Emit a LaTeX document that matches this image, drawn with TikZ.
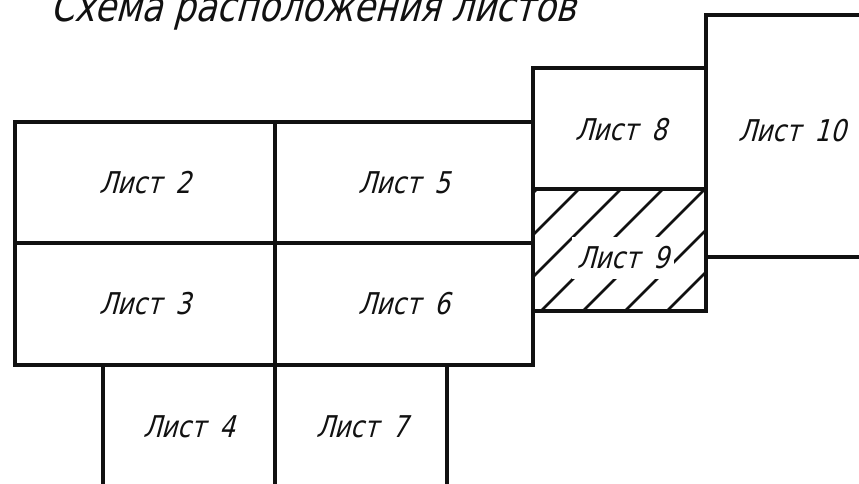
\documentclass[tikz,border=0pt]{standalone}
\usepackage{fontspec}
\newfontfamily\gostfont[FakeSlant=0.27,FakeStretch=0.82]{DejaVu Sans}
\definecolor{ink}{HTML}{111111}
\tikzset{frame/.style={ink,line width=3.4pt},hatch/.style={ink,line width=2.6pt},sheetlabel/.style={font=\gostfont\fontsize{30}{36}\selectfont,text=ink,inner sep=1pt},titlelabel/.style={font=\gostfont\fontsize{42}{50}\selectfont,text=ink,inner sep=0pt,anchor=base west}}

\begin{document}
\begin{tikzpicture}[x=1pt,y=-1pt]
\useasboundingbox (0,0) rectangle (859,484);
\clip (0,0) rectangle (859,484);
\node[titlelabel] (title) at (50,22) {Схема расположения листов};
% hatching of sheet 9
\begin{scope}
\clip (533,189) rectangle (706,311);
\foreach \c in {726,768,...,978}
\draw[hatch] (\c-311,311) -- (\c-189,189);
\end{scope}
\node[sheetlabel,fill=white,inner xsep=5pt,inner ysep=10pt] (l9) at (623,258) {Лист \hspace{0.2em}9};
% sheets 2,3,5,6
\draw[frame] (15,122) rectangle (533,365);
\draw[frame] (15,243) -- (533,243);
\draw[frame] (275,122) -- (275,500);
% sheets 4,7
\draw[frame] (103,365) -- (103,500);
\draw[frame] (447,365) -- (447,500);
% sheets 8,9,10
\draw[frame] (533,68) rectangle (706,311);
\draw[frame] (533,189) -- (706,189);
\draw[frame] (870,15) -| (706,68);
\draw[frame] (706,257) -- (870,257);
\node[sheetlabel] (l2) at (145,183) {Лист \hspace{0.2em}2};
\node[sheetlabel] (l3) at (145,304) {Лист \hspace{0.2em}3};
\node[sheetlabel] (l4) at (189,427) {Лист \hspace{0.2em}4};
\node[sheetlabel] (l5) at (404,183) {Лист \hspace{0.2em}5};
\node[sheetlabel] (l6) at (404,304) {Лист \hspace{0.2em}6};
\node[sheetlabel] (l7) at (362,427) {Лист \hspace{0.2em}7};
\node[sheetlabel] (l8) at (621,130) {Лист \hspace{0.2em}8};
\node[sheetlabel] (l10) at (792,131) {Лист \hspace{0.2em}10};
\end{tikzpicture}
\end{document}
